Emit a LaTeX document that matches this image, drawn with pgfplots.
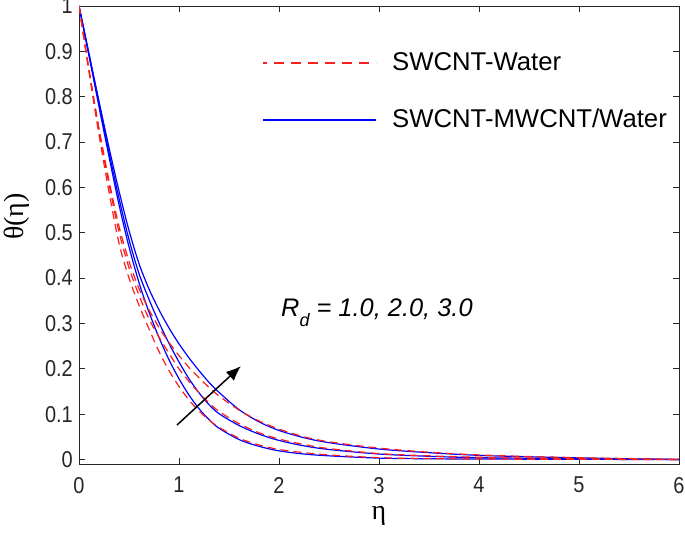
\documentclass[border=0pt]{standalone}
\usepackage{fontspec}
\setmainfont{Liberation Sans}
\newfontfamily\tickfont{Liberation Sans}[FakeStretch=0.87]
\newfontfamily\grk{Liberation Serif}
\usepackage{pgfplots}
\pgfplotsset{compat=1.18}
\usetikzlibrary{arrows.meta}
\definecolor{axgray}{RGB}{38,38,38}
\definecolor{lred}{RGB}{250,30,30}
\begin{document}
\begin{tikzpicture}
\begin{axis}[name=ax, at={(0,0)}, anchor=south west,
  width=600bp, height=458bp, scale only axis,
  xmin=0, xmax=6, ymin=-0.01, ymax=1,
  xtick={0,1,2,3,4,5,6},
  ytick={0,0.1,0.2,0.3,0.4,0.5,0.6,0.7,0.8,0.9,1},
  yticklabels={0,0.1,0.2,0.3,0.4,0.5,0.6,0.7,0.8,0.9,1},
  tick align=inside, tick pos=both,
  major tick length=6bp,
  axis line style={axgray, line width=0.9bp},
  every tick/.style={axgray, line width=0.9bp},
  /pgf/number format/assume math mode=true,
  xticklabel style={font=\tickfont\fontsize{23}{27}\selectfont, inner sep=0pt, anchor=north, yshift=-13bp, text=axgray},
  yticklabel style={font=\tickfont\fontsize{23}{27}\selectfont, inner sep=0pt, anchor=east, xshift=-6bp, text=axgray},
  xlabel={\grk η},
  ylabel={\grk θ(η)},
  xlabel style={at={(axis description cs:0.5,-0.113)}, anchor=center, font=\fontsize{28}{31}\selectfont},
  ylabel style={at={(axis description cs:-0.103,0.54)}, anchor=center, font=\fontsize{28}{31}\selectfont},
  legend style={draw=none, fill=none, at={(rel axis cs:0.305,0.8133)}, anchor=west,
    inner sep=0pt, row sep=35bp, column sep=15bp,
    nodes={inner sep=0pt, text height=18bp, text depth=4bp, font=\fontsize{25.8}{30}\selectfont}},
  legend cell align=left,
  legend image code/.code={\draw[#1] (0bp,0bp) -- (113bp,0bp);},
]
\addlegendimage{lred, line width=2bp, dash pattern=on 10bp off 7bp, dash phase=-11bp}
\addlegendentry{SWCNT-Water}
\addlegendimage{blue, line width=2bp}
\addlegendentry{SWCNT-MWCNT/Water}

% SWCNT-MWCNT/Water, Rd = 1, 2, 3
\addplot[forget plot, blue, line width=1.2bp, smooth] coordinates {
(0,1)(0.1,0.89)(0.2,0.778)(0.3,0.668)(0.4,0.562)(0.5,0.469)(0.6,0.39)(0.7,0.325)(0.8,0.269)(0.9,0.22)(1.0,0.178)(1.1,0.142)(1.2,0.112)(1.3,0.088)(1.4,0.069)(1.6,0.044)(1.8,0.029)(2.0,0.019)(2.25,0.012)(2.5,0.008)(3,0.003)(3.5,0.0015)(4,0.001)(5,0.0003)(6,0)};
\addplot[forget plot, blue, line width=1.2bp, smooth] coordinates {
(0,1)(0.1,0.893)(0.2,0.784)(0.3,0.677)(0.4,0.576)(0.5,0.485)(0.6,0.41)(0.7,0.353)(0.8,0.302)(0.9,0.256)(1.0,0.215)(1.1,0.178)(1.2,0.147)(1.3,0.121)(1.4,0.101)(1.6,0.075)(1.8,0.056)(2.0,0.042)(2.25,0.030)(2.5,0.022)(3,0.012)(3.5,0.007)(4,0.004)(5,0.0015)(6,0)};
\addplot[forget plot, blue, line width=1.2bp, smooth] coordinates {
(0,1)(0.1,0.895)(0.2,0.79)(0.3,0.688)(0.4,0.592)(0.5,0.505)(0.6,0.432)(0.7,0.376)(0.8,0.33)(0.9,0.29)(1.0,0.255)(1.1,0.224)(1.2,0.196)(1.3,0.17)(1.4,0.148)(1.6,0.11)(1.8,0.083)(2.0,0.064)(2.25,0.048)(2.5,0.037)(3,0.023)(3.5,0.015)(4,0.009)(4.5,0.006)(5,0.0035)(5.5,0.0015)(6,0)};

% SWCNT-Water, Rd = 1, 2, 3
\addplot[forget plot, lred, line width=1.2bp, dash pattern=on 8bp off 5bp, smooth] coordinates {
(0,1)(0.1,0.855)(0.2,0.716)(0.3,0.59)(0.4,0.477)(0.5,0.40)(0.6,0.34)(0.7,0.288)(0.8,0.238)(0.9,0.196)(1.0,0.161)(1.1,0.131)(1.2,0.107)(1.3,0.087)(1.4,0.071)(1.6,0.047)(1.8,0.032)(2.0,0.022)(2.25,0.015)(2.5,0.010)(3,0.004)(3.5,0.002)(4,0.001)(5,0.0003)(6,0)};
\addplot[forget plot, lred, line width=1.2bp, dash pattern=on 8bp off 5bp, smooth] coordinates {
(0,1)(0.1,0.858)(0.2,0.725)(0.3,0.607)(0.4,0.502)(0.5,0.423)(0.6,0.362)(0.7,0.31)(0.8,0.27)(0.9,0.234)(1.0,0.2)(1.1,0.172)(1.2,0.147)(1.3,0.125)(1.4,0.106)(1.6,0.079)(1.8,0.059)(2.0,0.045)(2.25,0.033)(2.5,0.024)(3,0.013)(3.5,0.008)(4,0.005)(5,0.0015)(6,0)};
\addplot[forget plot, lred, line width=1.2bp, dash pattern=on 8bp off 5bp, smooth] coordinates {
(0,1)(0.1,0.86)(0.2,0.73)(0.3,0.615)(0.4,0.514)(0.5,0.437)(0.6,0.377)(0.7,0.33)(0.8,0.291)(0.9,0.258)(1.0,0.229)(1.1,0.203)(1.2,0.18)(1.3,0.159)(1.4,0.14)(1.6,0.109)(1.8,0.085)(2.0,0.067)(2.25,0.05)(2.5,0.039)(3,0.025)(3.5,0.016)(4,0.01)(4.5,0.0065)(5,0.004)(5.5,0.002)(6,0)};

\draw[-{Latex[length=15bp,width=12bp]}, line width=1.5bp] (axis cs:0.98,0.076) -- (axis cs:1.62,0.206);
\node[anchor=base west, font=\itshape\fontsize{25.5}{30}\selectfont, inner sep=0pt] at (axis cs:2.02,0.316)
  {R\raisebox{-10bp}{\fontsize{18}{21}\selectfont d} = 1.0, 2.0, 3.0};
\end{axis}
\pgfresetboundingbox
\path[use as bounding box] ([shift={(-79bp,-71bp)}]ax.south west) rectangle ([shift={(6bp,6bp)}]ax.north east);
\end{tikzpicture}
\end{document}
